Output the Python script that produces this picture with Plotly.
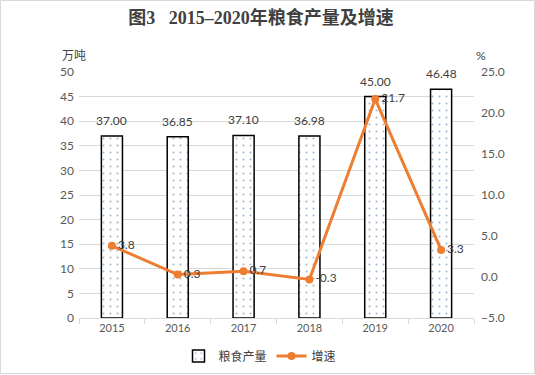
import plotly.graph_objects as go

years = ["2015", "2016", "2017", "2018", "2019", "2020"]
output = [37.00, 36.85, 37.10, 36.98, 45.00, 46.48]
growth = [3.8, 0.3, 0.7, -0.3, 21.7, 3.3]

W, H = 535, 375
L, R, T, B = 79, 61, 72, 57
pw, ph = W - L - R, H - T - B

font_fam = "Lato, 'Noto Sans CJK SC', sans-serif"
txt_col = "#404040"
xs = list(range(len(years)))

fig = go.Figure()
fig.add_trace(go.Bar(
    x=xs, y=output, name="粮食产量",
    marker=dict(color="white", line=dict(color="black", width=1.5),
                pattern=dict(shape=".", fgcolor="#4a6f9c", bgcolor="white", size=7, solidity=0.07)),
    width=0.32, hoverinfo="skip",
))
fig.add_trace(go.Scatter(
    x=xs, y=growth, name="增速", yaxis="y2",
    mode="lines+markers+text",
    line=dict(color="#ED7D31", width=3),
    marker=dict(color="#ED7D31", size=8),
    text=[f"{v:.1f}" for v in growth], textposition="middle right",
    textfont=dict(color=txt_col, size=12, family=font_fam),
))

for x, v in zip(xs, output):
    fig.add_annotation(x=x, y=v, text=f"{v:.2f}", showarrow=False, yanchor="bottom",
                       yshift=6, font=dict(color=txt_col, size=12, family=font_fam))

fig.add_annotation(xref="paper", yref="paper", x=(60 - L) / pw, y=(H - 46 - B) / ph,
                   text="万吨", showarrow=False, font=dict(color=txt_col, size=12, family=font_fam))
fig.add_annotation(xref="paper", yref="paper", x=(488 - L) / pw, y=(H - 46 - B) / ph,
                   text="%", showarrow=False, font=dict(color=txt_col, size=12, family=font_fam))

fig.add_shape(type="rect", xref="paper", yref="paper",
              x0=(-L + 0.5) / pw, x1=(W - L - 0.5) / pw,
              y0=(-B + 1.5) / ph, y1=(H - B - 0.5) / ph,
              line=dict(color="#D9D9D9", width=1), layer="below")

fig.update_layout(
    width=W, height=H,
    margin=dict(l=L, r=R, t=T, b=B, autoexpand=False),
    paper_bgcolor="white", plot_bgcolor="white",
    title=dict(text="<b>图3   2015–2020年粮食产量及增速</b>", x=(261 / W), xanchor="center",
               y=1 - 18 / H, yanchor="middle",
               font=dict(family="'Liberation Serif', 'Noto Sans CJK SC', serif", size=18, color="#404040")),
    font=dict(family=font_fam, size=12, color=txt_col),
    showlegend=True,
    legend=dict(orientation="h", x=(260 - L) / pw, xanchor="center", y=-(356 - T - ph) / ph,
                yanchor="middle", font=dict(size=12, color=txt_col)),
    xaxis=dict(range=[-0.5, len(years) - 0.5], tickvals=xs, ticktext=years, automargin=False,
               showgrid=False, showline=True, linecolor="#D9D9D9", linewidth=1,
               ticks="", zeroline=False,
               minor=dict(tickvals=[i - 0.5 for i in range(len(years) + 1)], ticks="outside",
                          ticklen=5, tickcolor="#D9D9D9", showgrid=False),
               tickfont=dict(size=11, color="#595959")),
    yaxis=dict(range=[0, 50], dtick=5, showgrid=True, gridcolor="#D9D9D9", gridwidth=1,
               automargin=False, ticklabelstandoff=4,
               zeroline=False, showline=False, tickfont=dict(size=12, color="#595959"), ticks=""),
    yaxis2=dict(range=[-5, 25], dtick=5, overlaying="y", side="right", showgrid=False,
                automargin=False, ticklabelstandoff=6,
                zeroline=False, tickformat=".1f", tickfont=dict(size=12, color="#595959")),
)

fig.write_html("out.html", config={"displayModeBar": False},
               post_script="document.body.style.margin='0';document.body.style.padding='0';")
